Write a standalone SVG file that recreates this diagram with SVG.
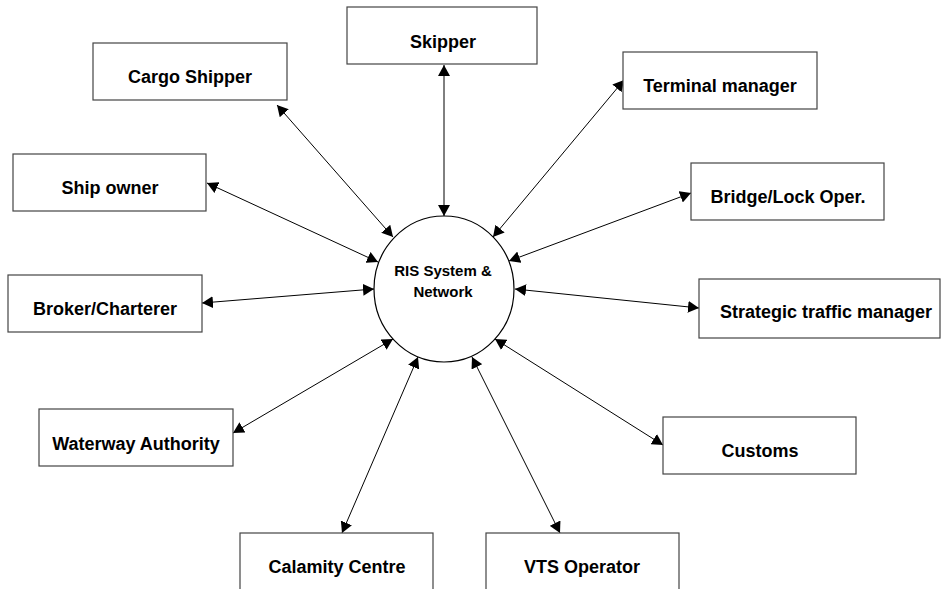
<svg xmlns="http://www.w3.org/2000/svg" width="942" height="589" viewBox="0 0 942 589">
<style>
.box{fill:#fff;stroke:#444;stroke-width:1.2}
.lbl{font-family:"Liberation Sans",Arial,sans-serif;font-weight:bold;font-size:18px;fill:#000;text-anchor:middle}
.hub{font-family:"Liberation Sans",Arial,sans-serif;font-weight:bold;font-size:15px;fill:#000;text-anchor:middle}
.con{stroke:#000;stroke-width:1;fill:none;marker-start:url(#ah);marker-end:url(#ah)}
</style>
<defs>
<marker id="ah" markerUnits="userSpaceOnUse" markerWidth="12" markerHeight="12" refX="11" refY="6" orient="auto-start-reverse">
<path d="M0,0 L11,6 L0,12 z" fill="#000"/>
</marker>
</defs>
<rect width="942" height="589" fill="#fff"/>
<g id="connectors">
<line class="con" x1="444" y1="65" x2="444" y2="216"/>
<line class="con" x1="277" y1="105" x2="393" y2="237"/>
<line class="con" x1="207" y1="183" x2="378" y2="262"/>
<line class="con" x1="202" y1="303" x2="374" y2="289"/>
<line class="con" x1="233" y1="433" x2="393" y2="339"/>
<line class="con" x1="342" y1="533" x2="418" y2="357"/>
<line class="con" x1="560" y1="533" x2="472" y2="357"/>
<line class="con" x1="663" y1="445" x2="495" y2="339"/>
<line class="con" x1="699" y1="308" x2="515" y2="289"/>
<line class="con" x1="691" y1="193" x2="509" y2="261"/>
<line class="con" x1="624" y1="80" x2="493" y2="237"/>
</g>
<g id="hub">
<ellipse cx="444" cy="289" rx="70" ry="73" fill="#fff" stroke="#000" stroke-width="1.2"/>
<text class="hub" x="443" y="276">RIS System &amp;</text>
<text class="hub" x="443" y="297">Network</text>
</g>
<g id="skipper"><rect class="box" x="347" y="7" width="190" height="57"/><text class="lbl" x="443" y="48">Skipper</text></g>
<g id="cargo-shipper"><rect class="box" x="93" y="43" width="194" height="57"/><text class="lbl" x="190" y="83">Cargo Shipper</text></g>
<g id="ship-owner"><rect class="box" x="13" y="154" width="193" height="57"/><text class="lbl" x="110" y="194">Ship owner</text></g>
<g id="broker"><rect class="box" x="8" y="275" width="194" height="57"/><text class="lbl" x="105" y="315">Broker/Charterer</text></g>
<g id="waterway"><rect class="box" x="39" y="409" width="194" height="57"/><text class="lbl" x="136" y="450">Waterway Authority</text></g>
<g id="calamity"><rect class="box" x="240" y="533" width="193" height="62"/><text class="lbl" x="337" y="573">Calamity Centre</text></g>
<g id="vts"><rect class="box" x="486" y="533" width="193" height="62"/><text class="lbl" x="582" y="573">VTS Operator</text></g>
<g id="terminal"><rect class="box" x="623" y="52" width="194" height="57"/><text class="lbl" x="720" y="92">Terminal manager</text></g>
<g id="bridge"><rect class="box" x="691" y="163" width="193" height="57"/><text class="lbl" x="788" y="203">Bridge/Lock Oper.</text></g>
<g id="strategic"><rect class="box" x="699" y="279" width="241" height="59"/><text class="lbl" x="826" y="318">Strategic traffic manager</text></g>
<g id="customs"><rect class="box" x="663" y="417" width="193" height="57"/><text class="lbl" x="760" y="457">Customs</text></g>
</svg>
